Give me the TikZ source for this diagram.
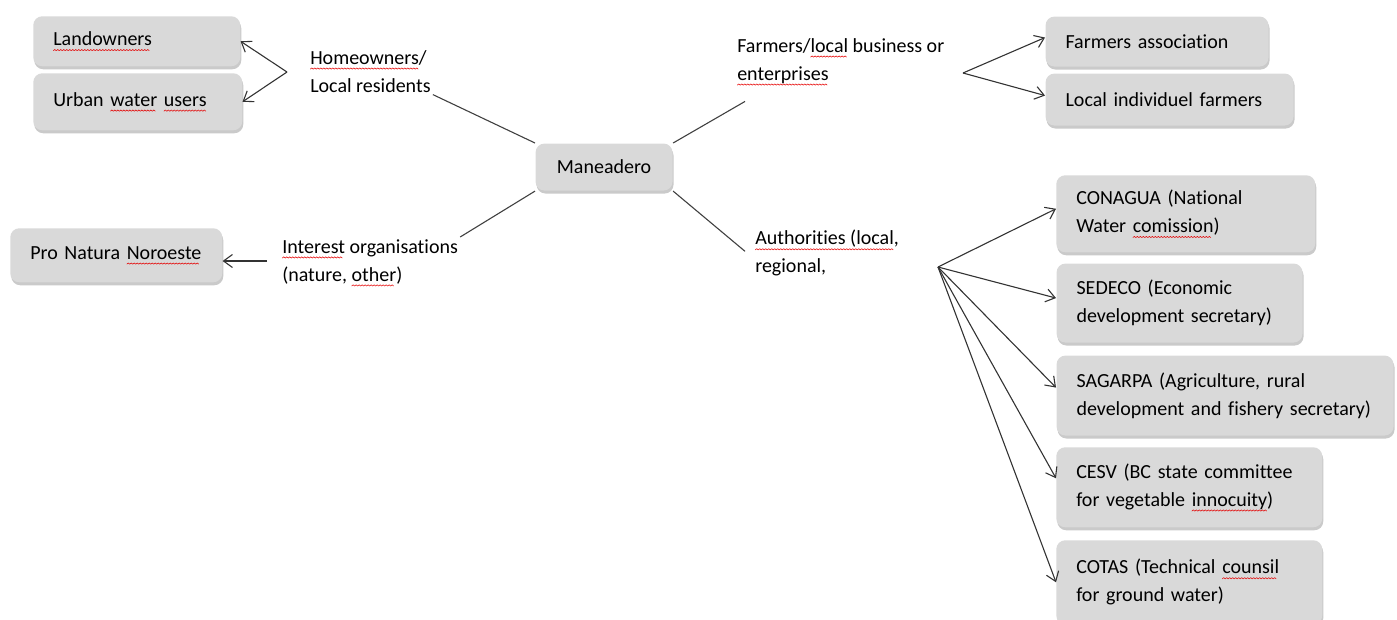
\documentclass[tikz,border=0pt]{standalone}
\usepackage{fontspec}
\setmainfont{Carlito}[Ligatures=NoCommon]
\usetikzlibrary{arrows.meta,shadows}

% red wavy spell-check line
\newcommand\zig{\begin{pgfpicture}%
  \pgfsetcornersarced{\pgfpointorigin}\pgfsetmiterjoin
  \pgfsetlinewidth{.55pt}\pgfsetstrokecolor{red!90!black}%
  \pgfpathmoveto{\pgfpoint{0pt}{0pt}}\pgfpathlineto{\pgfpoint{1.5pt}{1.2pt}}\pgfpathlineto{\pgfpoint{3pt}{0pt}}%
  \pgfusepath{stroke}%
  \pgfresetboundingbox\pgfpathrectangle{\pgfpointorigin}{\pgfpoint{3pt}{1.2pt}}\pgfusepath{use as bounding box}%
\end{pgfpicture}}
\newsavebox\spellbox
\newcommand\spell[1]{\sbox\spellbox{#1}\rlap{\lower5pt\hbox to\wd\spellbox{\leaders\hbox{\zig}\hfill}}\usebox\spellbox}

\tikzset{every picture/.style={line width=1.1pt, x=1pt, y=1pt}}
\tikzset{
  card/.style={anchor=north west, fill=black!15, rounded corners=9pt,
    inner xsep=20pt, inner ysep=0pt, align=left, minimum height=#1,
    drop shadow={shadow xshift=1pt, shadow yshift=-3pt, opacity=.35, fill=black!60}},
  card/.default={50pt},
  role/.style={anchor=north west, inner sep=2pt, align=left},
  link/.style={draw=black!75},
  arr/.style={draw=black!80, -{Straight Barb[length=9pt,width=13pt]}},
}

\begin{document}
\begin{tikzpicture}[font=\fontsize{20}{28}\selectfont]
  \useasboundingbox (0,0) rectangle (1397,-619);
  % centre
  \node[card=47pt, text width=97pt, align=center] (man) at (535,-143) {Maneadero};
  % homeowners
  \node[role] (home) at (308,-48) {\spell{Homeowners}/\\Local residents};
  \node[card=50pt, text width=167pt] (land) at (33,-16) {\spell{Landowners}};
  \node[card=57pt, text width=169pt] (urban) at (33,-73) {Urban \spell{water} \spell{users}};
  \coordinate (homefork) at (287,-72);
  \draw[arr] (homefork) -- (land.east);
  \draw[arr] (homefork) -- (urban.east);
  % farmers
  \node[role] (farm) at (735,-36) {Farmers/\spell{local} business or\\\spell{enterprises}};
  \node[card=50pt, text width=183pt] (assoc) at (1045,-16) {Farmers association};
  \node[card=52pt, text width=208pt] (indiv) at (1045,-73) {Local individuel farmers};
  \coordinate (farmfork) at (963,-73);
  \draw[arr] (farmfork) -- ([yshift=4pt]assoc.west);
  \draw[arr] (farmfork) -- ([yshift=4pt]indiv.west);
  % interest organisations
  \node[role] (int) at (280,-237) {\spell{Interest} organisations\\(nature, \spell{other})};
  \node[card=54pt, text width=172pt] (pro) at (10,-228) {Pro Natura \spell{Noroeste}};
  \coordinate (intfork) at (267,-261);
  \draw[arr] (intfork) -- (intfork -| pro.east);
  % authorities
  \node[role] (auth) at (753,-228) {\spell{Authorities (local},\\regional,};
  \node[card=77pt, text width=219pt] (conagua) at (1056,-175) {CONAGUA (National\\Water \spell{comission})};
  \node[card=79pt, text width=206pt] (sedeco) at (1056,-263) {SEDECO (Economic\\development secretary)};
  \node[card=80pt, text width=297pt] (sagarpa) at (1056,-355) {SAGARPA (Agriculture, rural\\development and fishery secretary)};
  \node[card=80pt, text width=226pt] (cesv) at (1056,-447) {CESV (BC state committee\\for vegetable \spell{innocuity})};
  \node[card=84pt, text width=226pt] (cotas) at (1056,-540) {COTAS (Technical \spell{counsil}\\for ground water)};
  \coordinate (authfork) at (938,-267);
  \foreach \b/\s in {conagua/5,sedeco/5,sagarpa/8,cesv/9,cotas/0}
    \draw[arr] (authfork) -- ([yshift=\s pt]\b.west);
  % links to the centre
  \draw[link] (home.south east) -- (man.north west);
  \draw[link] ([shift={(10,-14)}]farm.south west) -- (man.north east);
  \draw[link] (int.north east) -- (man.south west);
  \draw[link] ([shift={(-8,2)}]auth.west) -- (man.south east);
\end{tikzpicture}
\end{document}
